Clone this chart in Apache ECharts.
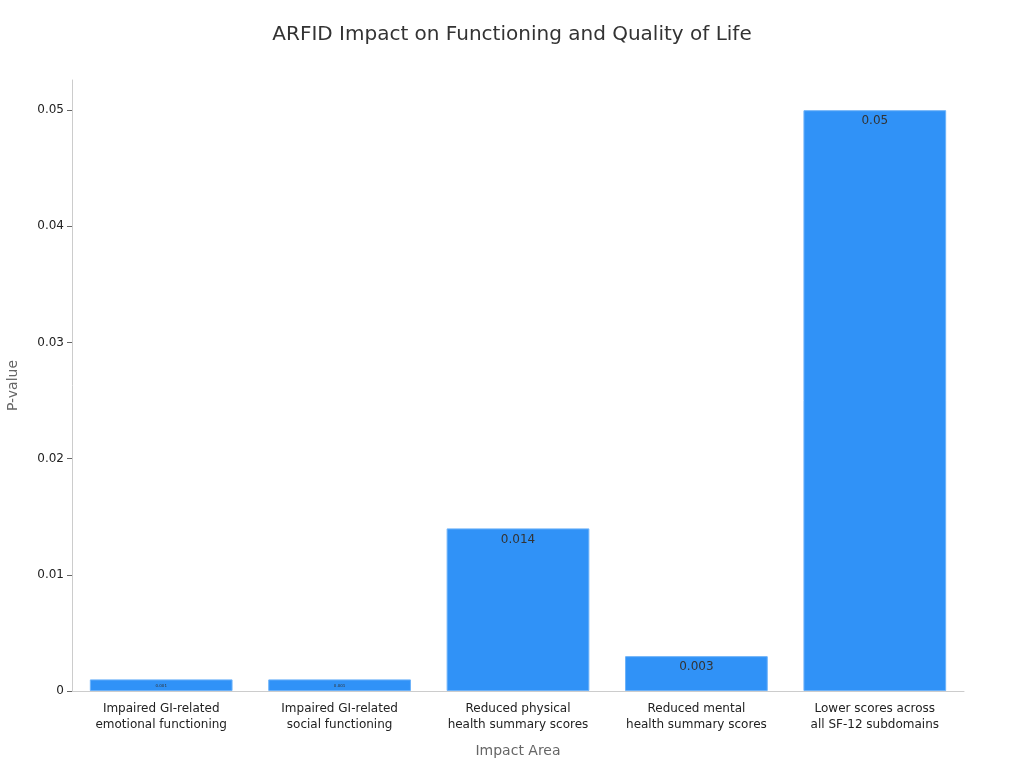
<!DOCTYPE html>
<html>
<head>
<meta charset="utf-8">
<script src="https://cdn.jsdelivr.net/npm/echarts@6/dist/echarts.min.js"></script>
<style>
    html, body { margin: 0; padding: 0; background: #fff; }
    #chart-arfid-main { width: 1024px; height: 768px; }
</style>
</head>
<body>
<div id="chart-arfid-main"></div>
<script>
let impactAreas = [
    'Impaired GI-related\nemotional functioning',
    'Impaired GI-related\nsocial functioning',
    'Reduced physical\nhealth summary scores',
    'Reduced mental\nhealth summary scores',
    'Lower scores across\nall SF-12 subdomains'
];
let pValues = [0.001, 0.001, 0.014, 0.003, 0.05];
let yTicks = [0, 0.01, 0.02, 0.03, 0.04, 0.05];

let myChart = echarts.init(document.getElementById('chart-arfid-main'));

// tiny bars get a tiny label, like the original
let barData = pValues.map(v => ({
    value: v,
    label: v < 0.002 ? {fontSize: 4} : {}
}));

let option = {
    textStyle: {
        fontFamily: 'DejaVu Sans'
    },
    title: {
        text: 'ARFID Impact on Functioning and Quality of Life',
        left: 'center',
        top: 20,
        textStyle: {
            fontSize: 20,
            fontWeight: 'normal',
            color: '#333'
        }
    },
    grid: {
        left: 72,
        right: 60,
        top: 80,
        bottom: 77,
        outerBoundsMode: 'none'
    },
    xAxis: {
        type: 'category',
        data: impactAreas,
        name: 'Impact Area',
        nameLocation: 'middle',
        nameGap: 53,
        nameTextStyle: {fontSize: 14, color: '#666'},
        axisLine: {lineStyle: {color: '#ccc'}},
        axisTick: {alignWithLabel: true, lineStyle: {color: '#666'}},
        axisLabel: {fontSize: 12, color: '#222', lineHeight: 16, interval: 0, margin: 10}
    },
    yAxis: {
        type: 'value',
        min: 0,
        max: 0.0526,
        name: 'P-value',
        nameLocation: 'middle',
        nameGap: 52,
        nameTextStyle: {fontSize: 14, color: '#666'},
        splitLine: {show: false},
        axisLine: {show: true, lineStyle: {color: '#ccc'}},
        axisTick: {show: true, customValues: yTicks, lineStyle: {color: '#666'}},
        axisLabel: {fontSize: 12, color: '#222', customValues: yTicks}
    },
    series: [
        {
            type: 'bar',
            data: barData,
            barCategoryGap: '20%',
            itemStyle: {
                color: '#3092f7',
                borderColor: '#6db2f9',
                borderWidth: 1
            },
            label: {
                show: true,
                position: 'insideTop',
                fontSize: 12,
                color: '#333'
            }
        }
    ]
};
option && myChart.setOption(option);
</script>
</body>
</html>
